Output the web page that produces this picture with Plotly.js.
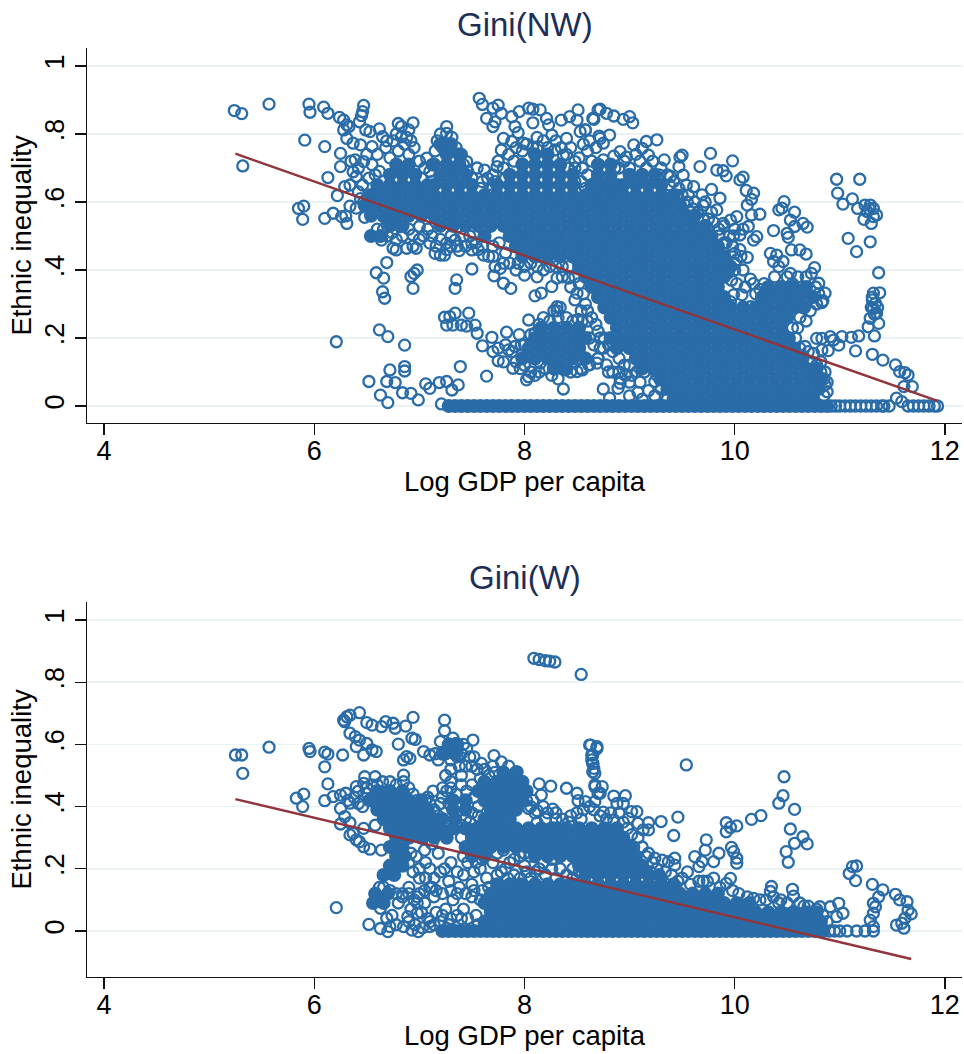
<!DOCTYPE html>
<html><head><meta charset="utf-8"><script src="https://cdn.plot.ly/plotly-3.0.1.min.js"></script>
<style>html,body{margin:0;padding:0;background:#fff}</style></head><body><div id="c" style="width:964px;height:1054px"></div>
<script>
const titles=["Gini(NW)","Gini(W)"];
const xLabel="Log GDP per capita", yLabel="Ethnic inequality";
const xTicks=[4,6,8,10,12];
const yTicks=[0,.2,.4,.6,.8,1];
const yTickText=["0",".2",".4",".6",".8","1"];
const fitTopX=[5.25,11.93], fitTopY=[.742,.015];
const fitBotX=[5.25,11.68], fitBotY=[.424,-.09];

const topRings=[[5.24,.869],[5.31,.86],[5.57,.888],[5.95,.888],[5.96,.864],[6.09,.879],[6.13,.861],[6.24,.849],[6.28,.841],[6.31,.827],[6.28,.812],[6.33,.822],[6.47,.884],[6.46,.866],[6.45,.854],[6.43,.836],[6.49,.812],[6.53,.807],[6.62,.815],[6.65,.792],[6.69,.78],[6.8,.831],[6.83,.822],[6.94,.833],[6.9,.812],[6.83,.792],[7.26,.822],[7.26,.802],[7.31,.79],[5.91,.782],[6.1,.763],[6.25,.743],[6.31,.787],[6.37,.773],[6.44,.768],[6.55,.763],[5.32,.706],[6.25,.704],[6.13,.672],[6.39,.724],[6.47,.719],[6.37,.689],[6.4,.675],[6.29,.645],[6.22,.619],[6.34,.65],[5.85,.581],[5.9,.588],[5.89,.549],[6.1,.552],[6.18,.567],[6.26,.557],[6.3,.559],[6.31,.537],[6.34,.588],[6.4,.582],[6.48,.555],[6.53,.591],[6.66,.557],[6.75,.464],[6.78,.459],[6.88,.464],[6.97,.464],[6.64,.488],[6.82,.528],[6.94,.503],[7,.528],[7.1,.479],[7.15,.449],[7.2,.444],[7.24,.444],[7.38,.457],[7.5,.459],[7.5,.479],[7.61,.444],[7.34,.488],[7.26,.479],[6.69,.422],[6.59,.392],[6.66,.376],[6.65,.336],[6.67,.317],[6.98,.4],[6.95,.39],[6.92,.381],[6.94,.346],[7.355,.371],[7.34,.346],[7.5,.403],[7.71,.383],[7.77,.405],[7.8,.361],[7.87,.346],[8,.385],[8.12,.38],[8.1,.324],[8.16,.332],[8.26,.351],[8.31,.376],[8.42,.376],[8.5,.332],[8.48,.312],[8.31,.292],[8.31,.28],[7.24,.261],[7.29,.263],[7.34,.273],[7.47,.273],[7.26,.238],[7.32,.238],[7.4,.238],[7.45,.235],[7.53,.238],[7.55,.214],[7.69,.202],[7.6,.177],[7.83,.217],[8.04,.253],[6.62,.224],[6.7,.204],[6.21,.189],[6.86,.179],[6.72,.106],[6.86,.116],[6.86,.103],[7.39,.116],[7.64,.088],[6.52,.072],[6.69,.072],[6.77,.069],[7.06,.065],[7.1,.052],[7.19,.069],[7.26,.072],[7.37,.062],[7.31,.047],[6.63,.032],[6.7,.01],[6.84,.039],[6.92,.037],[6.99,.018],[7.21,.006],[8.37,.05],[7.75,.133],[7.8,.13],[7.85,.165],[7.91,.175],[7.97,.18],[7.89,.111],[8.02,.077],[8.04,.086],[8.1,.214],[8.21,.224],[8.51,.255],[8.39,.106],[8.5,.101],[8.29,.111],[8.15,.126],[8.61,.121],[8.69,.126],
[7.57,.905],[7.6,.887],[7.64,.846],[7.7,.822],[7.72,.836],[7.7,.876],[7.75,.885],[7.78,.861],[7.88,.851],[7.95,.866],[8.04,.876],[8.08,.873],[8.15,.871],[8.21,.846],[8.08,.833],[8.23,.827],[8.35,.841],[8.26,.797],[8.4,.787],[8.43,.851],[8.51,.871],[8.5,.841],[8.58,.812],[8.53,.807],[8.65,.846],[8.7,.871],[7.91,.822],[7.94,.804],[7.8,.787],[7.88,.778],[7.78,.753],[7.99,.773],[8.12,.79],[8.13,.763],[8.29,.753],[8.48,.719],[8.37,.738],[8.72,.787],[7.62,.694],[7.7,.68],[7.74,.704],[7.45,.719],[7.07,.729],[7.12,.71],
[8.72,.873],[8.78,.861],[8.85,.853],[8.94,.843],[9,.851],[9.03,.833],[8.66,.843],[8.58,.812],[8.71,.794],[8.81,.797],[8.75,.773],[9.26,.783],[9.16,.778],[9.04,.768],[9.12,.758],[8.91,.748],[8.97,.732],[8.85,.735],[8.75,.724],[9.18,.738],[9.33,.724],[9.5,.738],[9.48,.732],[9.77,.743],[9.67,.704],[9.98,.721],[9.83,.694],[9.89,.692],[9.92,.677],[10.05,.665],[10.08,.673],[10.11,.634],[10.18,.626],[10.16,.608],[10.12,.591],[10.24,.564],[10.16,.562],[10.13,.528],[10.21,.498],[10.18,.488],[10.37,.516],[10.42,.577],[10.45,.582],[10.47,.601],[10.57,.57],[10.53,.547],[10.57,.528],[10.65,.537],[10.69,.526],[10.5,.508],[10.51,.496],[10.02,.557],[9.96,.547],[9.89,.537],[10.05,.503],[9.99,.5],[10,.449],[10.12,.437],[10.34,.449],[10.4,.444],[10.37,.425],[10.42,.41],[10.46,.425],[10.54,.459],[10.62,.459],[10.68,.447],[10.76,.407],[10.53,.39],[10.15,.373],[9.94,.392],[10.24,.343],[10.34,.336],[10.45,.341],[10.8,.361],[10.86,.332],[10.83,.304],[10.07,.327],[9.99,.327],[9.96,.307],[10.15,.292],[9.78,.637],[9.86,.611],[9.83,.577],[9.61,.645],[9.69,.621],[9.56,.621],[9.51,.679],[9.47,.704],[9.47,.64],[9.39,.675],[9.7,.59],[9.62,.6],[9.75,.55],[9.85,.52],[9.92,.48],[10,.42],
[10.97,.667],[11.19,.667],[10.98,.626],[11.03,.594],[11.12,.609],[11.17,.581],[11.24,.591],[11.29,.591],[11.32,.581],[11.35,.562],[11.3,.537],[11.23,.549],[11.26,.572],[11.32,.557],[11.28,.58],[11.08,.493],[11.16,.454],[11.29,.483],[11.37,.392],[11.32,.332],[11.38,.333],[11.31,.312],[11.34,.302],[11.32,.287],[11.35,.273],[11.29,.258],[11.37,.243],[11.27,.233],[11.33,.206],[11.31,.32],[11.33,.27],[11.36,.29],[11.3,.29],[11.31,.152],[11.41,.135],[11.53,.121],[11.57,.101],[11.62,.098],[11.65,.091],[11.69,.057],[11.61,.057],[11.54,.023],[11.59,.013],[11.65,0],[10.92,0],[10.96,0],[11,0],[11.05,0],[11.1,0],[11.15,0],[11.2,0],[11.25,0],[11.3,0],[11.35,0],[11.4,0],[11.42,0],[11.47,0],[11.7,0],[11.75,0],[11.8,0],[11.85,0],[11.9,0],[11.93,0],
[10.78,.199],[10.83,.199],[10.91,.204],[10.94,.194],[11.02,.204],[11.11,.202],[11.18,.206],[10.99,.179],[10.89,.163],[11.15,.162],[10.67,.175],[10.75,.155],[10.83,.165],[10.86,.062],[10.88,.042],[9.18,.045],[8.89,.052],[8.91,.081],[8.91,.067],[8.81,.023],[9.29,.077],[9.24,.072],[9.07,.101],[9.08,.155],[8.62,.121],[8.78,.121],[8.55,.106],[8.72,.2],[8.75,.17],[8.7,.14],[8.8,.1],[9,.07],[9,.12]];

const topRingsDense=[[6.35,.72],[6.42,.7],[6.5,.74],[6.55,.71],[6.6,.74],[6.62,.69],[6.68,.76],[6.72,.73],[6.75,.78],[6.8,.75],[6.86,.77],[6.9,.74],[6.95,.76],[7,.72],[7.05,.7],[7.02,.67],[6.58,.68],[6.52,.67],[6.46,.65],[6.42,.63],[6.47,.6],[6.44,.61],[7.1,.69],[7.12,.66],[7.08,.64],[6.78,.8],[6.88,.79],[6.92,.78],
[7.15,.75],[7.2,.8],[7.17,.78],[7.22,.76],[7.35,.76],[7.4,.74],[7.42,.71],[7.46,.69],[7.5,.67],[7.55,.7],[7.6,.66],[7.65,.67],[7.7,.64],[7.58,.64],[7.66,.62],[7.75,.72],[7.8,.7],[7.82,.67],[7.72,.66],
[7.85,.74],[7.92,.76],[7.98,.75],[8.02,.77],[8.08,.76],[8.18,.78],[8.22,.76],[8.3,.78],[8.35,.76],[8.4,.74],[8.44,.76],[8.48,.7],[8.52,.73],[8.55,.7],[8.6,.68],[8.6,.75],[8.64,.72],[8.56,.77],[8.62,.78],[8.68,.76],[7.9,.72],[8.42,.7],[8.48,.66],[8.54,.66],[8.58,.64],[8.86,.7],[8.9,.7],[8.95,.72],[9,.7],[9.06,.74],[9.1,.72],[9.16,.7],[9.22,.72],[9.3,.7],[9.28,.68],[9.36,.68],[9.38,.65],[9.42,.66],[9.45,.62],[9.5,.62],[9.55,.6],[9.54,.65],[9.6,.58],[9.65,.57],[9.7,.55],[9.72,.6],[9.78,.57],[9.8,.54],[9.75,.52],[9.85,.5],[9.9,.53],[9.9,.48],[9.95,.5],[9.98,.47],[10,.52],[10.05,.46],[10.08,.52],[10.02,.43],[10.06,.44],[10,.4],[9.97,.37],[10.02,.36],[10.08,.4],[10.1,.35],[10.18,.36],[10.2,.33],[10.28,.36],[10.3,.34],[10.38,.38],[10.5,.38],[10.55,.36],[10.6,.38],[10.68,.38],[10.73,.39],[10.77,.35],[10.8,.33],[10.84,.31],[10.78,.3],[10.72,.28],[10.68,.25],
[10.6,.23],[10.62,.26],[10.55,.23],[10.52,.2],[10.58,.2],[10.62,.17],[10.65,.14],[10.7,.16],[10.73,.13],[10.78,.12],[10.82,.1],[10.85,.08],[10.86,.1],[10.82,.13],[10.88,.07],[10.85,.03],
[6.6,.52],[6.66,.52],[6.7,.5],[6.74,.51],[6.78,.49],[6.84,.5],[6.9,.52],[6.94,.47],[7,.49],[7.04,.5],[7.08,.52],[7.12,.5],[7.16,.47],[7.2,.49],[7.26,.46],[7.3,.47],[7.3,.5],[7.36,.47],[7.42,.5],[7.44,.47],[7.48,.5],[7.54,.48],[7.56,.46],[7.6,.47],[7.66,.44],[7.7,.47],[7.7,.44],[7.76,.48],[7.82,.45],[7.72,.41],[7.8,.42],[7.86,.42],[7.92,.4],[7.94,.42],[8,.41],[8.06,.42],[8.12,.41],[8.18,.4],[8.24,.41],[8.3,.41],[8.36,.41],[8.42,.41],[8.48,.38],[8.52,.36],[8.36,.38],[8.44,.35],[8.56,.33],[8.58,.3],[8.54,.28],[8.6,.28],[8.64,.26],[8.6,.25],[8.68,.24],[8.7,.22],[8.76,.2],[8.62,.2],[8.66,.18],[8.72,.17],[8.8,.18],[8.84,.16],[8.9,.14],[8.95,.12],[8.7,.14],
[7.7,.16],[7.75,.17],[7.82,.18],[7.88,.16],[7.92,.13],[7.96,.11],[8,.12],[8.06,.1],[8.1,.09],[8.14,.1],[8.2,.11],[8.26,.09],[8.32,.08],[8.44,.1],[8.54,.11],[8.06,.21],[8.14,.24],[8.18,.26],[8.24,.25],[8.28,.28],[8.34,.29],[8.32,.26],[8.4,.26],[8.46,.25],[8.55,.25],[7.95,.21],[8,.18],
[8.84,.1],[8.9,.1],[8.96,.09],[9.02,.09],[9.1,.07],[9.14,.1],[9.16,.12],[9.22,.11],[9.26,.09],[9.3,.05],[9.34,.03],[9.24,.03],[9.08,.04],[9,.03],[9.12,.02],[8.75,.05],[9.3,.12],[9.38,.09],[9.36,.02]];

const topCore=[
[.77,[7.2,7.3]],
[.74,[7.26,7.38,8.1,8.22]],
[.71,[6.78,6.9,7.14,7.26,7.38,7.98,8.1,8.22,8.34,8.7,8.82]],
[.68,[6.72,6.84,6.96,7.2,7.32,7.44,7.86,7.98,8.1,8.22,8.34,8.46,8.7,8.82,9,9.12,9.24]],
[.65,[6.6,6.72,6.84,6.96,7.08,7.14,7.26,7.38,7.5,7.74,7.86,7.98,8.1,8.22,8.34,8.46,8.64,8.76,8.88,8.94,9.06,9.18,9.3]],
[.62,[6.54,6.66,6.78,6.9,7.02,7.14,7.26,7.38,7.5,7.62,7.74,7.86,7.98,8.1,8.22,8.34,8.46,8.58,8.7,8.82,8.94,9.06,9.18,9.3,9.42]],
[.59,[6.48,6.6,6.72,6.84,6.96,7.08,7.2,7.32,7.44,7.56,7.68,7.8,7.92,8.04,8.16,8.28,8.4,8.52,8.64,8.76,8.88,9,9.12,9.24,9.36,9.48]],
[.56,[6.54,6.66,6.78,6.9,7.02,7.14,7.26,7.38,7.5,7.62,7.74,7.86,7.98,8.1,8.22,8.34,8.46,8.58,8.7,8.82,8.94,9.06,9.18,9.3,9.42,9.54,9.62]],
[.53,[6.72,6.84,7.2,7.32,7.44,7.56,7.68,7.8,7.92,8.04,8.16,8.28,8.4,8.52,8.64,8.76,8.88,9,9.12,9.24,9.36,9.48,9.6,9.72]],
[.5,[6.54,6.63,7.62,7.86,7.98,8.1,8.22,8.34,8.46,8.58,8.7,8.82,8.94,9.06,9.18,9.3,9.42,9.54,9.66,9.78]],
[.47,[7.92,8.04,8.16,8.28,8.4,8.52,8.64,8.76,8.88,9,9.12,9.24,9.36,9.48,9.6,9.72,9.84]],
[.44,[7.98,8.1,8.22,8.34,8.46,8.58,8.7,8.82,8.94,9.06,9.18,9.3,9.42,9.54,9.66,9.78,9.9]],
[.41,[8.52,8.64,8.76,8.88,9,9.12,9.24,9.36,9.48,9.6,9.72,9.84,9.96]],
[.38,[8.58,8.7,8.82,8.94,9.06,9.18,9.3,9.42,9.54,9.66,9.78,9.9]],
[.35,[8.64,8.76,8.88,9,9.12,9.24,9.36,9.48,9.6,9.72,9.84,10.32,10.44,10.56,10.68]],
[.32,[8.7,8.82,8.94,9.06,9.18,9.3,9.42,9.54,9.66,9.78,9.9,10.26,10.38,10.5,10.62,10.74]],
[.29,[8.76,8.88,9,9.12,9.24,9.36,9.48,9.6,9.72,9.84,9.96,10.08,10.2,10.32,10.44,10.56,10.66]],
[.26,[8.82,8.94,9.06,9.18,9.3,9.42,9.54,9.66,9.78,9.9,10.02,10.14,10.26,10.38,10.5]],
[.23,[8.16,8.28,8.4,8.52,8.88,9,9.12,9.24,9.36,9.48,9.6,9.72,9.84,9.96,10.08,10.2,10.32,10.44]],
[.2,[8.1,8.22,8.34,8.46,8.58,8.82,8.94,9.06,9.18,9.3,9.42,9.54,9.66,9.78,9.9,10.02,10.14,10.26,10.38,10.5]],
[.17,[8.04,8.16,8.28,8.4,8.52,8.88,9,9.12,9.24,9.36,9.48,9.6,9.72,9.84,9.96,10.08,10.2,10.32,10.44,10.56]],
[.14,[7.98,8.1,8.22,8.34,8.46,8.58,9.06,9.18,9.3,9.42,9.54,9.66,9.78,9.9,10.02,10.14,10.26,10.38,10.5,10.62]],
[.11,[8.28,8.4,9.12,9.24,9.36,9.48,9.6,9.72,9.84,9.96,10.08,10.2,10.32,10.44,10.56,10.68,10.78]],
[.08,[9.3,9.42,9.54,9.66,9.78,9.9,10.02,10.14,10.26,10.38,10.5,10.62,10.74,10.82]],
[.05,[9.36,9.48,9.6,9.72,9.84,9.96,10.08,10.2,10.32,10.44,10.56,10.68,10.8]],
[.02,[9.42,9.54,9.66,9.78,9.9,10.02,10.14,10.26,10.38,10.5,10.62,10.74]],
[0,[7.28,7.34,7.4,7.46,7.52,7.58,7.64,7.7,7.76,7.82,7.88,7.94,8,8.06,8.12,8.18,8.24,8.3,8.36,8.42,8.48,8.54,8.6,8.66,8.72,8.78,8.84,8.9,8.96,9.02,9.08,9.14,9.2,9.26,9.32,9.38,9.44,9.5,9.56,9.62,9.68,9.74,9.8,9.86,9.92,9.98,10.04,10.1,10.16,10.22,10.28,10.34,10.4,10.46,10.52,10.58,10.64,10.7,10.76,10.82,10.88]]];

const botRings=[[8.09,.877],[8.14,.873],[8.2,.869],[8.24,.868],[8.29,.865],[8.54,.825],[5.25,.566],[5.31,.566],[5.32,.507],[5.57,.591],[5.95,.587],[5.96,.577],[6.1,.575],[6.13,.569],[6.27,.566],[6.1,.528],[6.13,.473],[5.83,.427],[5.9,.44],[5.89,.4],[6.1,.419],[6.18,.432],[6.25,.437],[6.3,.443],[6.34,.411],[6.4,.464],[6.47,.475],[6.48,.496],[6.58,.496],[6.5,.443],[6.25,.394],[6.29,.368],[6.25,.344],[6.34,.348],[6.58,.34],[6.47,.33],[6.37,.314],[6.4,.293],[6.47,.271],[6.53,.263],[6.64,.26],[6.43,.287],[6.34,.309],[6.21,.075],[6.52,.021],[6.63,.008],[6.7,-.002],[6.69,.041],[6.72,.014],[6.85,.014],[6.93,.003],[6.99,-.002],[7.1,.014],[6.89,.046],[6.98,.057],[6.63,.073],[6.28,.678],[6.31,.689],[6.29,.673],[6.34,.694],[6.43,.702],[6.5,.67],[6.55,.662],[6.64,.657],[6.68,.673],[6.75,.668],[6.77,.652],[6.87,.659],[6.94,.687],[6.34,.636],[6.39,.625],[6.43,.614],[6.5,.603],[6.55,.582],[6.59,.577],[6.47,.566],[6.4,.593],[6.8,.601],[6.93,.62],[6.96,.616],[6.85,.55],[6.88,.561],[6.91,.555],[7.24,.678],[7.24,.644],[7.51,.614],[7.71,.564],[7.78,.544],[6.85,.501],[6.85,.48],[7.04,.577],[7.1,.566],[7.2,.609],[7.35,.603],[7.45,.587],[7.59,.539],[7.93,.512],[8.14,.473],[8.25,.466],[8.16,.437],[8.4,.459],[8.5,.443],[8.58,.416],[8.51,.419],[8.27,.392],[8.12,.387],[8.04,.394],[8.12,.348],[8.62,.598],[8.69,.593],[8.64,.566],[8.65,.539],[8.65,.512],[8.67,.47],[8.72,.443],
[8.63,.598],[8.69,.587],[8.65,.566],[8.65,.539],[8.66,.523],[8.67,.507],[8.64,.55],[8.67,.464],[8.74,.464],[8.7,.443],[8.67,.416],[8.75,.382],[9.54,.534],[8.85,.434],[8.96,.435],[8.94,.41],[8.88,.41],[9.02,.384],[9.07,.384],[8.99,.362],[9.08,.346],[9.18,.348],[9.13,.325],[9.18,.325],[9.3,.352],[9.46,.366],[9.42,.307],[8.85,.357],[9.92,.348],[10.02,.338],[9.92,.319],[9.96,.333],[10.16,.359],[10.25,.371],[9.73,.293],[9.72,.26],[9.97,.269],[9.99,.255],[10.02,.234],[10.02,.218],[9.85,.25],[9.62,.239],[9.69,.223],[9.66,.207],[9.8,.223],[10.47,.496],[10.46,.435],[10.42,.411],[10.57,.391],[10.53,.328],[10.65,.303],[10.69,.28],[10.57,.282],[10.49,.255],[10.51,.221],[11.16,.209],[11.12,.207],[11.09,.185],[11.15,.162],[11.31,.15],[11.41,.132],[11.53,.118],[11.57,.1],[11.64,.094],[11.68,.055],[11.62,.041],[11.59,.025],[11.54,.019],[11.61,.009],[11.65,.067],[10.35,.143],[10.34,.127],[10.37,.11],[10.55,.134],[10.56,.112],[9.96,.169],[9.92,.153],[9.16,.239],[9.24,.234],[9.31,.228],[9.37,.223],[9.43,.234],[9.43,.212],[10.18,.105],[10.81,.078],[10.99,.089],[11.03,.057],[10.91,.078],[10.97,.046],[10.9,0],[10.95,0],[11,0],[11.07,0],[11.16,0],[11.24,0],[11.32,0],[11.32,.089],[11.34,.078],[11.32,.057],[11.29,.035],[11.32,.014],[11.37,.11],
[7,.2],[7.06,.17],[7.12,.14],[7.2,.19],[7.28,.16],[7.36,.12],[7.42,.18],[7.5,.15],[7.58,.2],[7.64,.17],[6.9,.14],[6.98,.11],[7.05,.09],[7.14,.11],[7.25,.07],[7.32,.1],[7.42,.07],[7.5,.11],[6.84,.12],[6.8,.09],[7.2,.03],[7.3,.04],[7.4,.04],[7.06,.22],[6.97,.24],[7.18,.25],[7.3,.22],[7.42,.24],[7.54,.22],[7.7,.22],[7.82,.2],[7.9,.18],[8,.21],[8.1,.19],[8.2,.18],[8.3,.17],[8.4,.18],[7.9,.23],[8.05,.24],[7.05,.26],[7.12,.28],[7.4,.3],[7.4,.34],[7.08,.43],[7.13,.45],[7.22,.46],[7.3,.48],[7.4,.5],[7.5,.53],[7.58,.49],[8.08,.42],[8.2,.36],[8.3,.38],[8.42,.35],[8.54,.36],[7.6,.23],[9.1,.21],[9.2,.19],[9.3,.17],[9.5,.17],[9.55,.19],[9.7,.16],[9.8,.17]];

const botRingsDense=[[6.32,.42],[6.38,.43],[6.42,.41],[6.46,.4],[6.42,.45],[6.5,.46],[6.55,.47],[6.52,.42],[6.6,.47],[6.65,.48],[6.72,.48],[6.78,.47],[6.9,.46],[6.94,.44],[6.98,.42],[7,.39],[7.04,.38],[7.06,.42],
[7.1,.41],[7.14,.39],[7.18,.37],[7.2,.41],[7.22,.43],[7.26,.45],[7.28,.41],[7.3,.46],[7.35,.44],[7.4,.47],[7.45,.45],[7.5,.47],[7.52,.43],[7.56,.4],[7.56,.37],[7.5,.38],[7.48,.35],[7.44,.36],[7.54,.33],[7.6,.33],[7.66,.33],[7.72,.34],[7.46,.33],
[7.15,.57],[7.18,.55],[7.25,.57],[7.3,.55],[7.36,.56],[7.4,.57],[7.44,.53],[7.38,.53],[7.3,.52],[7.25,.5],[7.28,.6],[7.32,.62],[7.42,.6],[7.48,.56],[7.52,.56],[7.55,.52],[7.62,.52],[7.66,.5],[7.72,.51],[7.7,.53],[7.85,.53],[7.9,.5],
[8.02,.42],[8.06,.4],[8.1,.38],[8.18,.4],[8.22,.38],[8.3,.36],[8.36,.36],[8.44,.37],[8.5,.38],[8.56,.39],[8.62,.4],[8.66,.39],[8.72,.37],[8.78,.36],[8.82,.38],[8.9,.38],[8.94,.35],[8.98,.33],[9.02,.31],[9.08,.3],[9.04,.27],[9.12,.27],[9.18,.25],[9.22,.22],[9.26,.2],[9.34,.19],[9.4,.18],[9.46,.16],[9.58,.15],[9.66,.16],[9.74,.16],[9.86,.14],[9.98,.13],[10.04,.12],[10.12,.11],[10.24,.1],[10.3,.1],[10.42,.09],[10.5,.09],[10.62,.09],[10.7,.08],[10.78,.07],[10.84,.05],[10.88,.03],[10.44,.1],[10.66,.08],
[6.62,.14],[6.66,.14],[6.72,.13],[6.78,.12],[6.84,.11],[6.9,.12],[6.95,.1],[7,.12],[7.05,.13],[7.1,.14],[7.16,.13],[7.22,.12],[7.3,.13],[7.38,.14],[7.44,.12],[7.52,.13],[7.58,.1],[7.6,.13],[7.66,.14],[6.92,.07],[6.98,.09],[7.02,.06],[7.08,.04],[7.16,.06],[7.22,.05],[7.28,.02],[7.36,.05],[7.46,.04],[7.54,.05],[7.56,.02],[6.74,.05],[6.9,.03],[6.96,.02],[7.03,.01],[7.1,.03],[7.14,.02],[6.78,.02],[7,.17],[7.14,.17],[7.24,.2],[7.36,.19],[7.46,.22],[7.52,.19],[7.1,.2],[6.84,.25],[6.9,.22],[6.94,.19],[6.92,.25],[6.88,.3],
[7.74,.18],[7.78,.19],[7.84,.17],[7.86,.22],[7.96,.17],[8.02,.19],[8.06,.17],[8.14,.2],[8.18,.22],[8.26,.2],[8.26,.23],[8.34,.2],[8.46,.2],[8.46,.17],[8.52,.19],[7.96,.24],[8,.25],[7.74,.25],[7.8,.26]];

const botCore=[
[.6,[7.28,7.36]],
[.57,[7.22,7.34]],
[.51,[7.8,7.92]],
[.48,[7.62,7.74,7.86,7.98]],
[.45,[6.6,6.72,6.84,7.56,7.68,7.8,7.92,8.02]],
[.42,[6.54,6.66,6.78,6.9,7.02,7.32,7.44,7.62,7.74,7.86,7.98]],
[.39,[6.6,6.72,6.84,6.96,7.08,7.32,7.44,7.68,7.8,7.92]],
[.36,[6.66,6.78,6.9,7.02,7.14,7.22,7.34,7.62,7.74,7.86]],
[.33,[6.72,6.84,6.96,7.08,7.2,7.32,7.44,7.56,7.68,7.8,7.92,8.04,8.16,8.28,8.4,8.52,8.64,8.76,8.88]],
[.3,[6.78,6.9,7.02,7.14,7.26,7.5,7.62,7.74,7.86,7.98,8.1,8.22,8.34,8.46,8.58,8.7,8.82,8.94]],
[.27,[6.72,6.84,7.44,7.56,7.68,7.8,7.92,8.04,8.16,8.28,8.4,8.52,8.64,8.76,8.88,9]],
[.24,[6.78,6.86,7.5,7.62,8.1,8.22,8.34,8.46,8.58,8.7,8.82,8.94,9.06]],
[.21,[6.72,6.84,8.52,8.64,8.76,8.88,9,9.12]],
[.18,[6.66,6.76,8.58,8.7,8.82,8.94,9.06,9.18,9.28]],
[.15,[7.74,7.86,7.98,8.1,8.22,8.34,8.46,8.58,8.7,8.82,8.94,9.06,9.18,9.3,9.42]],
[.12,[6.58,6.7,7.68,7.8,7.92,8.04,8.16,8.28,8.4,8.52,8.64,8.76,8.88,9,9.12,9.24,9.36,9.48,9.6,9.72,9.84]],
[.09,[6.56,6.66,7.62,7.74,7.86,7.98,8.1,8.22,8.34,8.46,8.58,8.7,8.82,8.94,9.06,9.18,9.3,9.42,9.54,9.66,9.78,9.9,10.02,10.14]],
[.06,[7.68,7.8,7.92,8.04,8.16,8.28,8.4,8.52,8.64,8.76,8.88,9,9.12,9.24,9.36,9.48,9.6,9.72,9.84,9.96,10.08,10.2,10.32,10.44,10.56,10.68,10.78]],
[.03,[7.62,7.74,7.86,7.98,8.1,8.22,8.34,8.46,8.58,8.7,8.82,8.94,9.06,9.18,9.3,9.42,9.54,9.66,9.78,9.9,10.02,10.14,10.26,10.38,10.5,10.62,10.74,10.82]],
[0,[7.22,7.28,7.34,7.4,7.46,7.52,7.58,7.64,7.7,7.76,7.82,7.88,7.94,8,8.06,8.12,8.18,8.24,8.3,8.36,8.42,8.48,8.54,8.6,8.66,8.72,8.78,8.84,8.9,8.96,9.02,9.08,9.14,9.2,9.26,9.32,9.38,9.44,9.5,9.56,9.62,9.68,9.74,9.8,9.86,9.92,9.98,10.04,10.1,10.16,10.22,10.28,10.34,10.4,10.46,10.52,10.58,10.64,10.7,10.76,10.84]]];

const blue="#2a6ca8", maroon="#90353b", grid="#eaf2f3", txt="#000";
const font="'Liberation Sans',Arial,sans-serif";
function px(rows){const x=[],y=[];rows.forEach(r=>r[1].forEach(v=>{x.push(v);y.push(r[0]);}));return {x,y};}
function panel(rings,core,fx,fy,xa,ya){
 const c=px(core);
 return [
  {type:'scatter',mode:'markers',x:rings.map(p=>p[0]),y:rings.map(p=>p[1]),xaxis:xa,yaxis:ya,cliponaxis:false,
   marker:{symbol:'circle',size:11,color:'rgba(0,0,0,0)',line:{color:blue,width:2.3}},hoverinfo:'skip'},
  {type:'scatter',mode:'markers',x:c.x,y:c.y,xaxis:xa,yaxis:ya,cliponaxis:false,
   marker:{symbol:'circle',size:12,color:blue,line:{color:blue,width:2.2}},hoverinfo:'skip'},
  {type:'scatter',mode:'lines',x:fx,y:fy,xaxis:xa,yaxis:ya,line:{color:maroon,width:2.4},hoverinfo:'skip'}
 ];
}
const H=1054,W=964;
const xCommon={range:[3.838,12.163],tickvals:xTicks,ticktext:xTicks.map(String),tickmode:'array',showgrid:false,zeroline:false,
 showline:true,linecolor:'#111',linewidth:1.4,ticks:'outside',ticklen:11,tickwidth:1.4,tickcolor:'#111',ticklabelstandoff:-8,
 tickfont:{family:font,size:27,color:txt},domain:[87/W,962/W]};
const yCommon={tickvals:yTicks,ticktext:yTickText,tickmode:'array',tickangle:-90,showgrid:true,gridcolor:grid,gridwidth:1.5,zeroline:false,
 showline:true,linecolor:'#111',linewidth:1.4,ticks:'outside',ticklen:11,tickwidth:1.4,tickcolor:'#111',
 tickfont:{family:font,size:27,color:txt}};
const tf={family:font,size:27.5,color:txt};
const layout={width:W,height:H,margin:{l:0,r:0,t:0,b:0},paper_bgcolor:'#fff',plot_bgcolor:'#fff',showlegend:false,
 xaxis:{...xCommon,anchor:'y',title:{text:xLabel,font:tf,standoff:4}},
 yaxis:{...yCommon,anchor:'x',range:[-.05,1.053],domain:[1-423/H,1-48/H],title:{text:yLabel,font:tf,standoff:0}},
 xaxis2:{...xCommon,anchor:'y2',title:{text:xLabel,font:tf,standoff:4}},
 yaxis2:{...yCommon,anchor:'x2',range:[-.148,1.058],domain:[1-977/H,1-602/H],title:{text:yLabel,font:tf,standoff:0}},
 annotations:[
  {text:titles[0],xref:'paper',yref:'paper',x:525/W,y:1-25/H,xanchor:'center',yanchor:'middle',showarrow:false,font:{family:font,size:33,color:'#1e2f57'}},
  {text:titles[1],xref:'paper',yref:'paper',x:525/W,y:1-577/H,xanchor:'center',yanchor:'middle',showarrow:false,font:{family:font,size:33,color:'#1e2f57'}}
 ]};
Plotly.newPlot('c',[...panel(topRings.concat(topRingsDense),topCore,fitTopX,fitTopY,'x','y'),...panel(botRings.concat(botRingsDense),botCore,fitBotX,fitBotY,'x2','y2')],layout,{displayModeBar:false,staticPlot:true});
</script></body></html>
